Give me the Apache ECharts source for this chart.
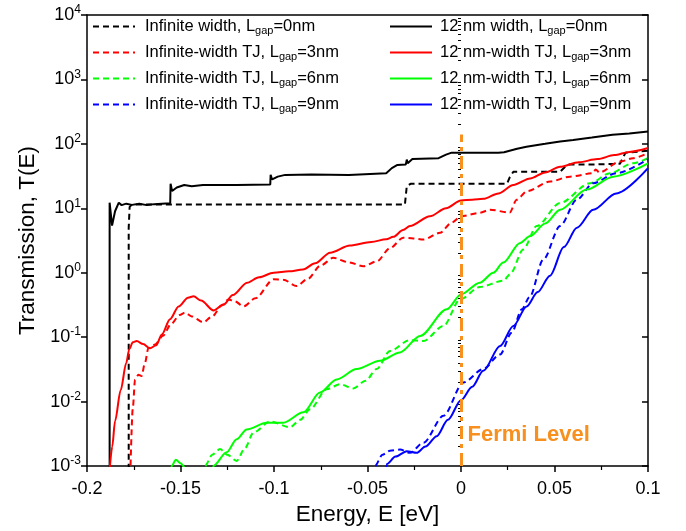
<!DOCTYPE html>
<html><head><meta charset="utf-8">
<script src="https://cdn.jsdelivr.net/npm/echarts@6/dist/echarts.min.js"></script>
<style>html,body{margin:0;padding:0;background:#fff}#c{width:686px;height:531px}</style>
</head><body><div id="c"></div>
<script>
// ---- axis ticks ----
const xTickValues = [-0.2, -0.15, -0.1, -0.05, 0, 0.05, 0.1];
const yMajorTicks = [0.001, 0.01, 0.1, 1, 10, 100, 1000, 10000];
const yMinorMultipliers = [2, 3, 4, 5, 6, 7, 8, 9];

// ---- series names ----
const namesDashed = ['Infinite width, Lgap=0nm', 'Infinite-width TJ, Lgap=3nm', 'Infinite-width TJ, Lgap=6nm', 'Infinite-width TJ, Lgap=9nm'];
const namesSolid = ['12 nm width, Lgap=0nm', '12 nm-width TJ, Lgap=3nm', '12 nm-width TJ, Lgap=6nm', '12 nm-width TJ, Lgap=9nm'];

// ---- data: [Energy (eV), Transmission] ----
const inf0 = [[-0.1777,0.0003],[-0.1777,5],[-0.1772,10.5],[-0.176,11.4],[-0.15,11.4],[-0.10,11.4],[-0.06,11.4],[-0.0300,11.4],[-0.0290,22],[-0.027,24],[0,24],[0.0246,24],[0.0260,30],[0.028,37],[0.053,37],[0.056,45],[0.058,48],[0.072,48],[0.085,49],[0.088,73],[0.1,78]];
const inf3 = [[-0.1770,0.0005],[-0.1755,0.008],[-0.1743,0.022],[-0.1725,0.026],[-0.1708,0.025],[-0.169,0.04],[-0.1672,0.067],[-0.1636,0.077],[-0.1594,0.105],[-0.155,0.16],[-0.1505,0.22],[-0.1476,0.24],[-0.144,0.21],[-0.1378,0.17],[-0.133,0.21],[-0.128,0.31],[-0.1244,0.385],[-0.121,0.36],[-0.1162,0.30],[-0.110,0.40],[-0.1002,0.79],[-0.095,0.78],[-0.0879,0.62],[-0.082,0.8],[-0.075,1.3],[-0.0683,1.7],[-0.060,1.45],[-0.0522,1.26],[-0.045,1.5],[-0.038,2.4],[-0.0309,3.5],[-0.0255,3.4],[-0.0201,3.27],[-0.0112,4.16],[-0.005,6.0],[0,7.5],[0.01,8.5],[0.0155,9.5],[0.026,8.6],[0.0298,13.6],[0.0353,18.4],[0.0476,26],[0.0583,31],[0.0706,35],[0.072,40],[0.074,36],[0.085,53],[0.092,60],[0.1,72]];
const inf6 = [[-0.1375,0.0005],[-0.1369,0.001],[-0.133,0.0015],[-0.1289,0.00183],[-0.125,0.0015],[-0.12,0.0012],[-0.1155,0.0019],[-0.111,0.0033],[-0.1021,0.0049],[-0.0914,0.0040],[-0.086,0.0052],[-0.0807,0.0076],[-0.0718,0.0156],[-0.0647,0.0186],[-0.0576,0.016],[-0.051,0.021],[-0.0451,0.032],[-0.038,0.061],[-0.0273,0.09],[-0.0201,0.087],[-0.0094,0.149],[-0.0005,0.385],[0.010,0.6],[0.0226,0.75],[0.0263,0.95],[0.0333,2.3],[0.0405,5.3],[0.053,12.1],[0.069,24.5],[0.0797,35],[0.092,50],[0.1,60]];
const inf9 = [[-0.0465,0.0005],[-0.046,0.001],[-0.042,0.0015],[-0.038,0.00173],[-0.0326,0.0018],[-0.0273,0.0016],[-0.0201,0.0023],[-0.0094,0.006],[0.0013,0.0198],[0.0119,0.032],[0.0209,0.054],[0.0271,0.117],[0.0325,0.27],[0.0367,0.42],[0.044,1.6],[0.053,5.3],[0.0619,13.6],[0.0707,24.5],[0.083,35],[0.1,58]];

const w12_0 = [[-0.1879,0.0003],[-0.1879,12.2],[-0.1866,5.4],[-0.1850,9],[-0.1830,12.2],[-0.1815,11.2],[-0.179,11.8],[-0.176,11.3],[-0.172,11.8],[-0.168,11.2],[-0.164,11.6],[-0.160,11.8],[-0.1555,12],[-0.1553,24],[-0.1545,18.5],[-0.152,21],[-0.148,23],[-0.144,22],[-0.138,23],[-0.12,23],[-0.102,23.5],[-0.1018,33],[-0.1010,28],[-0.098,31],[-0.094,33],[-0.08,33.5],[-0.06,33],[-0.040,35],[-0.037,42],[-0.034,47],[-0.0295,48],[-0.029,57],[-0.0285,50],[-0.026,58],[-0.012,60],[-0.008,68],[-0.005,73],[0,73],[0.02,73],[0.023,74],[0.03,84],[0.035,90],[0.04,95],[0.045,100],[0.053,109],[0.06,115],[0.07,125],[0.081,139],[0.09,145],[0.1,155]];
const w12_3 = [[-0.1880,0.0008],[-0.1865,0.002],[-0.185,0.005],[-0.182,0.015],[-0.179,0.04],[-0.1774,0.065],[-0.1755,0.083],[-0.1734,0.087],[-0.170,0.078],[-0.1663,0.067],[-0.163,0.075],[-0.160,0.11],[-0.1556,0.19],[-0.151,0.3],[-0.146,0.41],[-0.143,0.43],[-0.139,0.37],[-0.1323,0.26],[-0.127,0.32],[-0.122,0.45],[-0.1144,0.70],[-0.108,0.85],[-0.1002,1.0],[-0.092,1.05],[-0.0845,1.12],[-0.078,1.4],[-0.070,2.04],[-0.0594,2.64],[-0.048,3.0],[-0.040,3.3],[-0.0362,3.6],[-0.031,4.6],[-0.0273,5.3],[-0.0166,7.5],[-0.008,10],[0,13.2],[0.006,13.6],[0.012,14],[0.02,17],[0.028,23],[0.037,29],[0.045,36],[0.053,44],[0.063,52],[0.073,58],[0.082,67],[0.09,75],[0.1,86]];
const w12_6 = [[-0.1565,0.0005],[-0.1547,0.001],[-0.1525,0.00125],[-0.150,0.0011],[-0.1458,0.0008],[-0.140,0.0004],[-0.1335,0.0005],[-0.1325,0.001],[-0.1253,0.00163],[-0.120,0.0026],[-0.1146,0.0037],[-0.1039,0.0047],[-0.095,0.0047],[-0.0843,0.0068],[-0.0754,0.0138],[-0.0665,0.022],[-0.0558,0.032],[-0.0433,0.043],[-0.0326,0.058],[-0.0219,0.104],[-0.0076,0.27],[0,0.46],[0.010,0.7],[0.0173,1.0],[0.0226,1.44],[0.0316,2.9],[0.037,3.7],[0.045,5.8],[0.053,9.5],[0.0672,19.5],[0.0814,31],[0.1,50]];
const w12_9 = [[-0.0405,0.0005],[-0.0397,0.00107],[-0.035,0.0014],[-0.029,0.0017],[-0.0237,0.0016],[-0.019,0.002],[-0.013,0.0029],[-0.007,0.0052],[0,0.0105],[0.006,0.017],[0.0119,0.030],[0.0209,0.073],[0.028,0.149],[0.0351,0.30],[0.041,0.5],[0.0476,0.9],[0.055,2.5],[0.062,5],[0.0707,9.5],[0.083,17],[0.1,42]];

const fermiEnergy = 0;
const fermiTop = 140;
const fermiLabelAt = [0.0035, 0.003];

const colors = ['#000000', '#ff0000', '#00ff00', '#0000ff'];
const orange = '#f7901e';
const FONT = 'Liberation Sans, Arial, sans-serif';

const dashedData = [inf0, inf3, inf6, inf9];
const solidData = [w12_0, w12_3, w12_6, w12_9];

const yMinorTicks = [];
yMajorTicks.slice(0, -1).forEach(d => yMinorMultipliers.forEach(m => yMinorTicks.push(+(d * m).toPrecision(3))));

function legendFmt(name) {
  return name.replace('Lgap', 'L{s|gap}');
}
function yLabel(v) {
  const e = Math.round(Math.log10(v));
  return '{b|10}{p|' + e + '}';
}

const series = [];
dashedData.forEach((d, i) => series.push({
  name: namesDashed[i], type: 'line', data: d, xAxisIndex: 0, yAxisIndex: 0,
  symbol: 'none', smooth: i === 0 ? false : 0.3, smoothMonotone: 'x',
  lineStyle: { color: colors[i], width: 2, type: [6, 4] }, itemStyle: { color: colors[i] }, z: 3
}));
solidData.forEach((d, i) => series.push({
  name: namesSolid[i], type: 'line', data: d, xAxisIndex: 0, yAxisIndex: 0,
  symbol: 'none', smooth: i === 0 ? false : 0.3, smoothMonotone: 'x',
  lineStyle: { color: colors[i], width: 2, type: 'solid' }, itemStyle: { color: colors[i] }, z: 4
}));
// Fermi level annotation
series[4].markLine = {
  silent: true, symbol: 'none', animation: false,
  lineStyle: { color: orange, width: 3, type: [13, 5, 4, 5] },
  label: { show: false },
  data: [[{ coord: [fermiEnergy, 0.001] }, { coord: [fermiEnergy, fermiTop] }]]
};
series[4].markPoint = {
  silent: true, animation: false, symbol: 'circle', symbolSize: 0,
  label: { show: true, position: 'right', distance: 0, formatter: 'Fermi Level', color: orange, fontSize: 22, fontWeight: 'bold', fontFamily: FONT },
  data: [{ coord: fermiLabelAt }]
};

const legendRich = { s: { fontSize: 11, padding: [9, 0, 0, 0], fontFamily: FONT, color: '#000' } };

const axisLineStyle = { color: '#000', width: 1.5 };
const legendCommon = {
  orient: 'vertical', top: 13, itemWidth: 42, itemHeight: 12, itemGap: 7.5,
  itemStyle: { opacity: 0, borderWidth: 0 },
  formatter: legendFmt
};

const option = {
  animation: false,
  backgroundColor: '#fff',
  grid: { left: 87, right: 38, top: 15, bottom: 64, containLabel: false },
  legend: [
    Object.assign({}, legendCommon, { data: namesDashed, left: 87,
      textStyle: { fontSize: 16.5, fontFamily: FONT, color: '#000', padding: [0, 0, 0, 5], rich: legendRich } }),
    Object.assign({}, legendCommon, { data: namesSolid, left: 384,
      textStyle: { fontSize: 16.5, fontFamily: FONT, color: '#000', padding: [0, 0, 0, 3], rich: legendRich } })
  ],
  xAxis: [
    { type: 'value', position: 'bottom', min: -0.2, max: 0.1, interval: 0.05,
      name: 'Energy, E [eV]', nameLocation: 'middle', nameGap: 37,
      nameTextStyle: { fontSize: 22.5, fontFamily: FONT, color: '#000' },
      axisLine: { show: true, onZero: false, lineStyle: axisLineStyle },
      axisTick: { show: true, inside: false, length: 6, lineStyle: { color: '#000', width: 1.5 } },
      minorTick: { show: true, splitNumber: 2, length: 4, lineStyle: { color: '#000', width: 1.2 } },
      axisLabel: { show: true, margin: 14, fontSize: 18, fontFamily: FONT, color: '#000',
        customValues: xTickValues, formatter: v => String(+v.toFixed(2)) },
      splitLine: { show: false } },
    { type: 'value', position: 'top', min: -0.2, max: 0.1, interval: 0.05,
      axisLine: { show: true, onZero: false, lineStyle: axisLineStyle },
      axisTick: { show: false }, axisLabel: { show: false }, splitLine: { show: false } }
  ],
  yAxis: [
    { type: 'log', logBase: 10, position: 'left', min: 0.001, max: 10000,
      name: 'Transmission, T(E)', nameLocation: 'middle', nameGap: 46,
      nameTextStyle: { fontSize: 22.5, fontFamily: FONT, color: '#000' },
      axisLine: { show: true, onZero: false, lineStyle: axisLineStyle },
      axisTick: { show: true, inside: false, length: 6, customValues: yMajorTicks, lineStyle: { color: '#000', width: 1.5 } },
      axisLabel: { show: true, margin: 6, customValues: yMajorTicks, formatter: yLabel,
        rich: { b: { fontSize: 18, fontFamily: FONT, color: '#000' },
                p: { fontSize: 12, fontFamily: FONT, color: '#000', padding: [0, 0, 10, 0] } } },
      splitLine: { show: false } },
    { type: 'log', logBase: 10, position: 'left', min: 0.001, max: 10000,
      axisLine: { show: false },
      axisTick: { show: true, inside: false, length: 3, customValues: yMinorTicks, lineStyle: { color: '#000', width: 1 } },
      axisLabel: { show: false }, splitLine: { show: false } },
    { type: 'log', logBase: 10, position: 'right', min: 0.001, max: 10000,
      axisLine: { show: true, onZero: false, lineStyle: axisLineStyle },
      axisTick: { show: true, inside: true, length: 6, customValues: yMajorTicks, lineStyle: { color: '#000', width: 1.5 } },
      axisLabel: { show: false }, splitLine: { show: false } },
    { type: 'log', logBase: 10, position: 'right', min: 0.001, max: 10000,
      axisLine: { show: false },
      axisTick: { show: true, inside: true, length: 3, customValues: yMinorTicks, lineStyle: { color: '#000', width: 1 } },
      axisLabel: { show: false }, splitLine: { show: false } }
  ],
  series: series
};

const chart = echarts.init(document.getElementById('c'), null, { renderer: 'canvas' });
chart.setOption(option);
</script>
</body></html>
